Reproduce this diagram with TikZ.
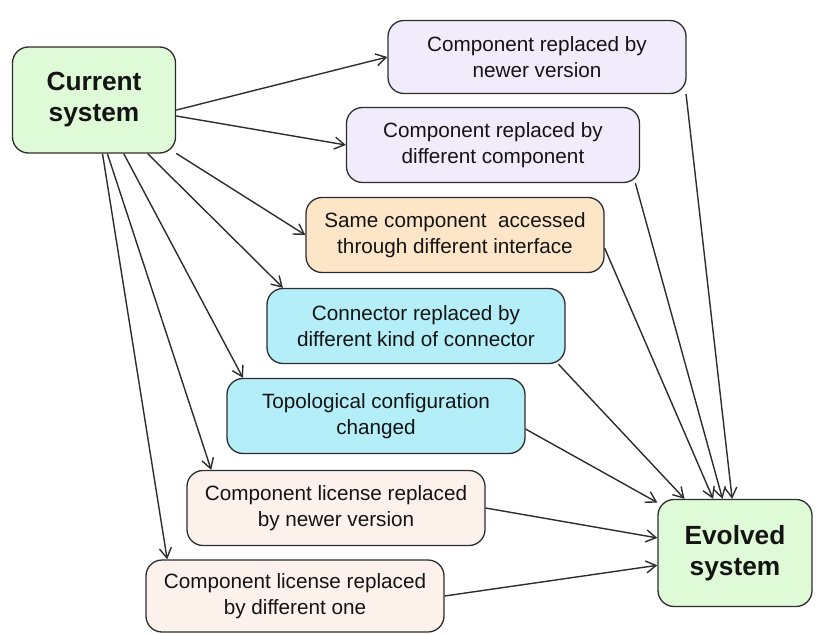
\documentclass[tikz,border=0pt]{standalone}
\usepackage{fontspec}
\setmainfont{Liberation Sans}
\usetikzlibrary{arrows.meta}
\definecolor{sysgreen}{RGB}{222,250,214}
\definecolor{lavender}{RGB}{241,236,252}
\definecolor{peach}{RGB}{253,230,200}
\definecolor{skyblue}{RGB}{180,238,248}
\definecolor{blush}{RGB}{253,241,236}
\definecolor{linegray}{RGB}{45,45,45}
\definecolor{textgray}{RGB}{20,20,20}
\begin{document}
\begin{tikzpicture}[x=1pt,y=-1pt,
  box/.style={draw=linegray,line width=1.3pt,rounded corners=16pt,align=center,text=textgray,
    minimum width=298pt,minimum height=75pt,inner sep=2pt,font=\fontsize{20.7}{25.5}\selectfont},
  sys/.style={box,minimum width=163pt,minimum height=106pt,font=\bfseries\fontsize{26.3}{31}\selectfont},
  link/.style={draw=linegray,line width=1.4pt,-{Straight Barb[length=10pt,width=12pt]}}]
\useasboundingbox (0,0) rectangle (817,634);
\node[sys,fill=sysgreen] (cs) at (94,100) {Current\\system};
\node[sys,fill=sysgreen,minimum width=154pt,minimum height=107pt] (es) at (735,553) {Evolved\\system};
\node[box,fill=lavender,minimum height=73pt] (n1) at (537,57) {Component replaced by\\newer version};
\node[box,fill=lavender,minimum width=293pt] (n2) at (493,145) {Component replaced by\\different component};
\node[box,fill=peach] (n3) at (455,235) {Same component~ accessed\\through different interface};
\node[box,fill=skyblue] (n4) at (416,326) {Connector replaced by\\different kind of connector};
\node[box,fill=skyblue] (n5) at (376,416) {Topological configuration\\changed};
\node[box,fill=blush] (n6) at (336,508) {Component license replaced\\by newer version};
\node[box,fill=blush,minimum height=72pt] (n7) at (295,596) {Component license replaced\\by different one};

\path[link] (cs.-7) -- (n1.west);
\path[link] (cs.-11) -- (n2.west);
\path[link] (cs.-33) -- (n3.west);
\path[link] (cs.-45) -- (n4.164.5);
\path[link] (cs.-61) -- (n5.164.5);
\path[link] (cs.-76) -- (n6.163.8);
\path[link] (cs.-81) -- (n7.164.5);

\path[link] (n1.-14) -- (es.93);
\path[link] (n2.-15.3) -- (es.103);
\path[link] (n3.-5.7) -- (es.112);
\path[link] (n4.-15) -- (es.133);
\path[link] (n5.-5.4) -- (es.147);
\path[link] (n6.east) -- (es.169);
\path[link] (n7.east) -- (es.-171);
\end{tikzpicture}
\end{document}
